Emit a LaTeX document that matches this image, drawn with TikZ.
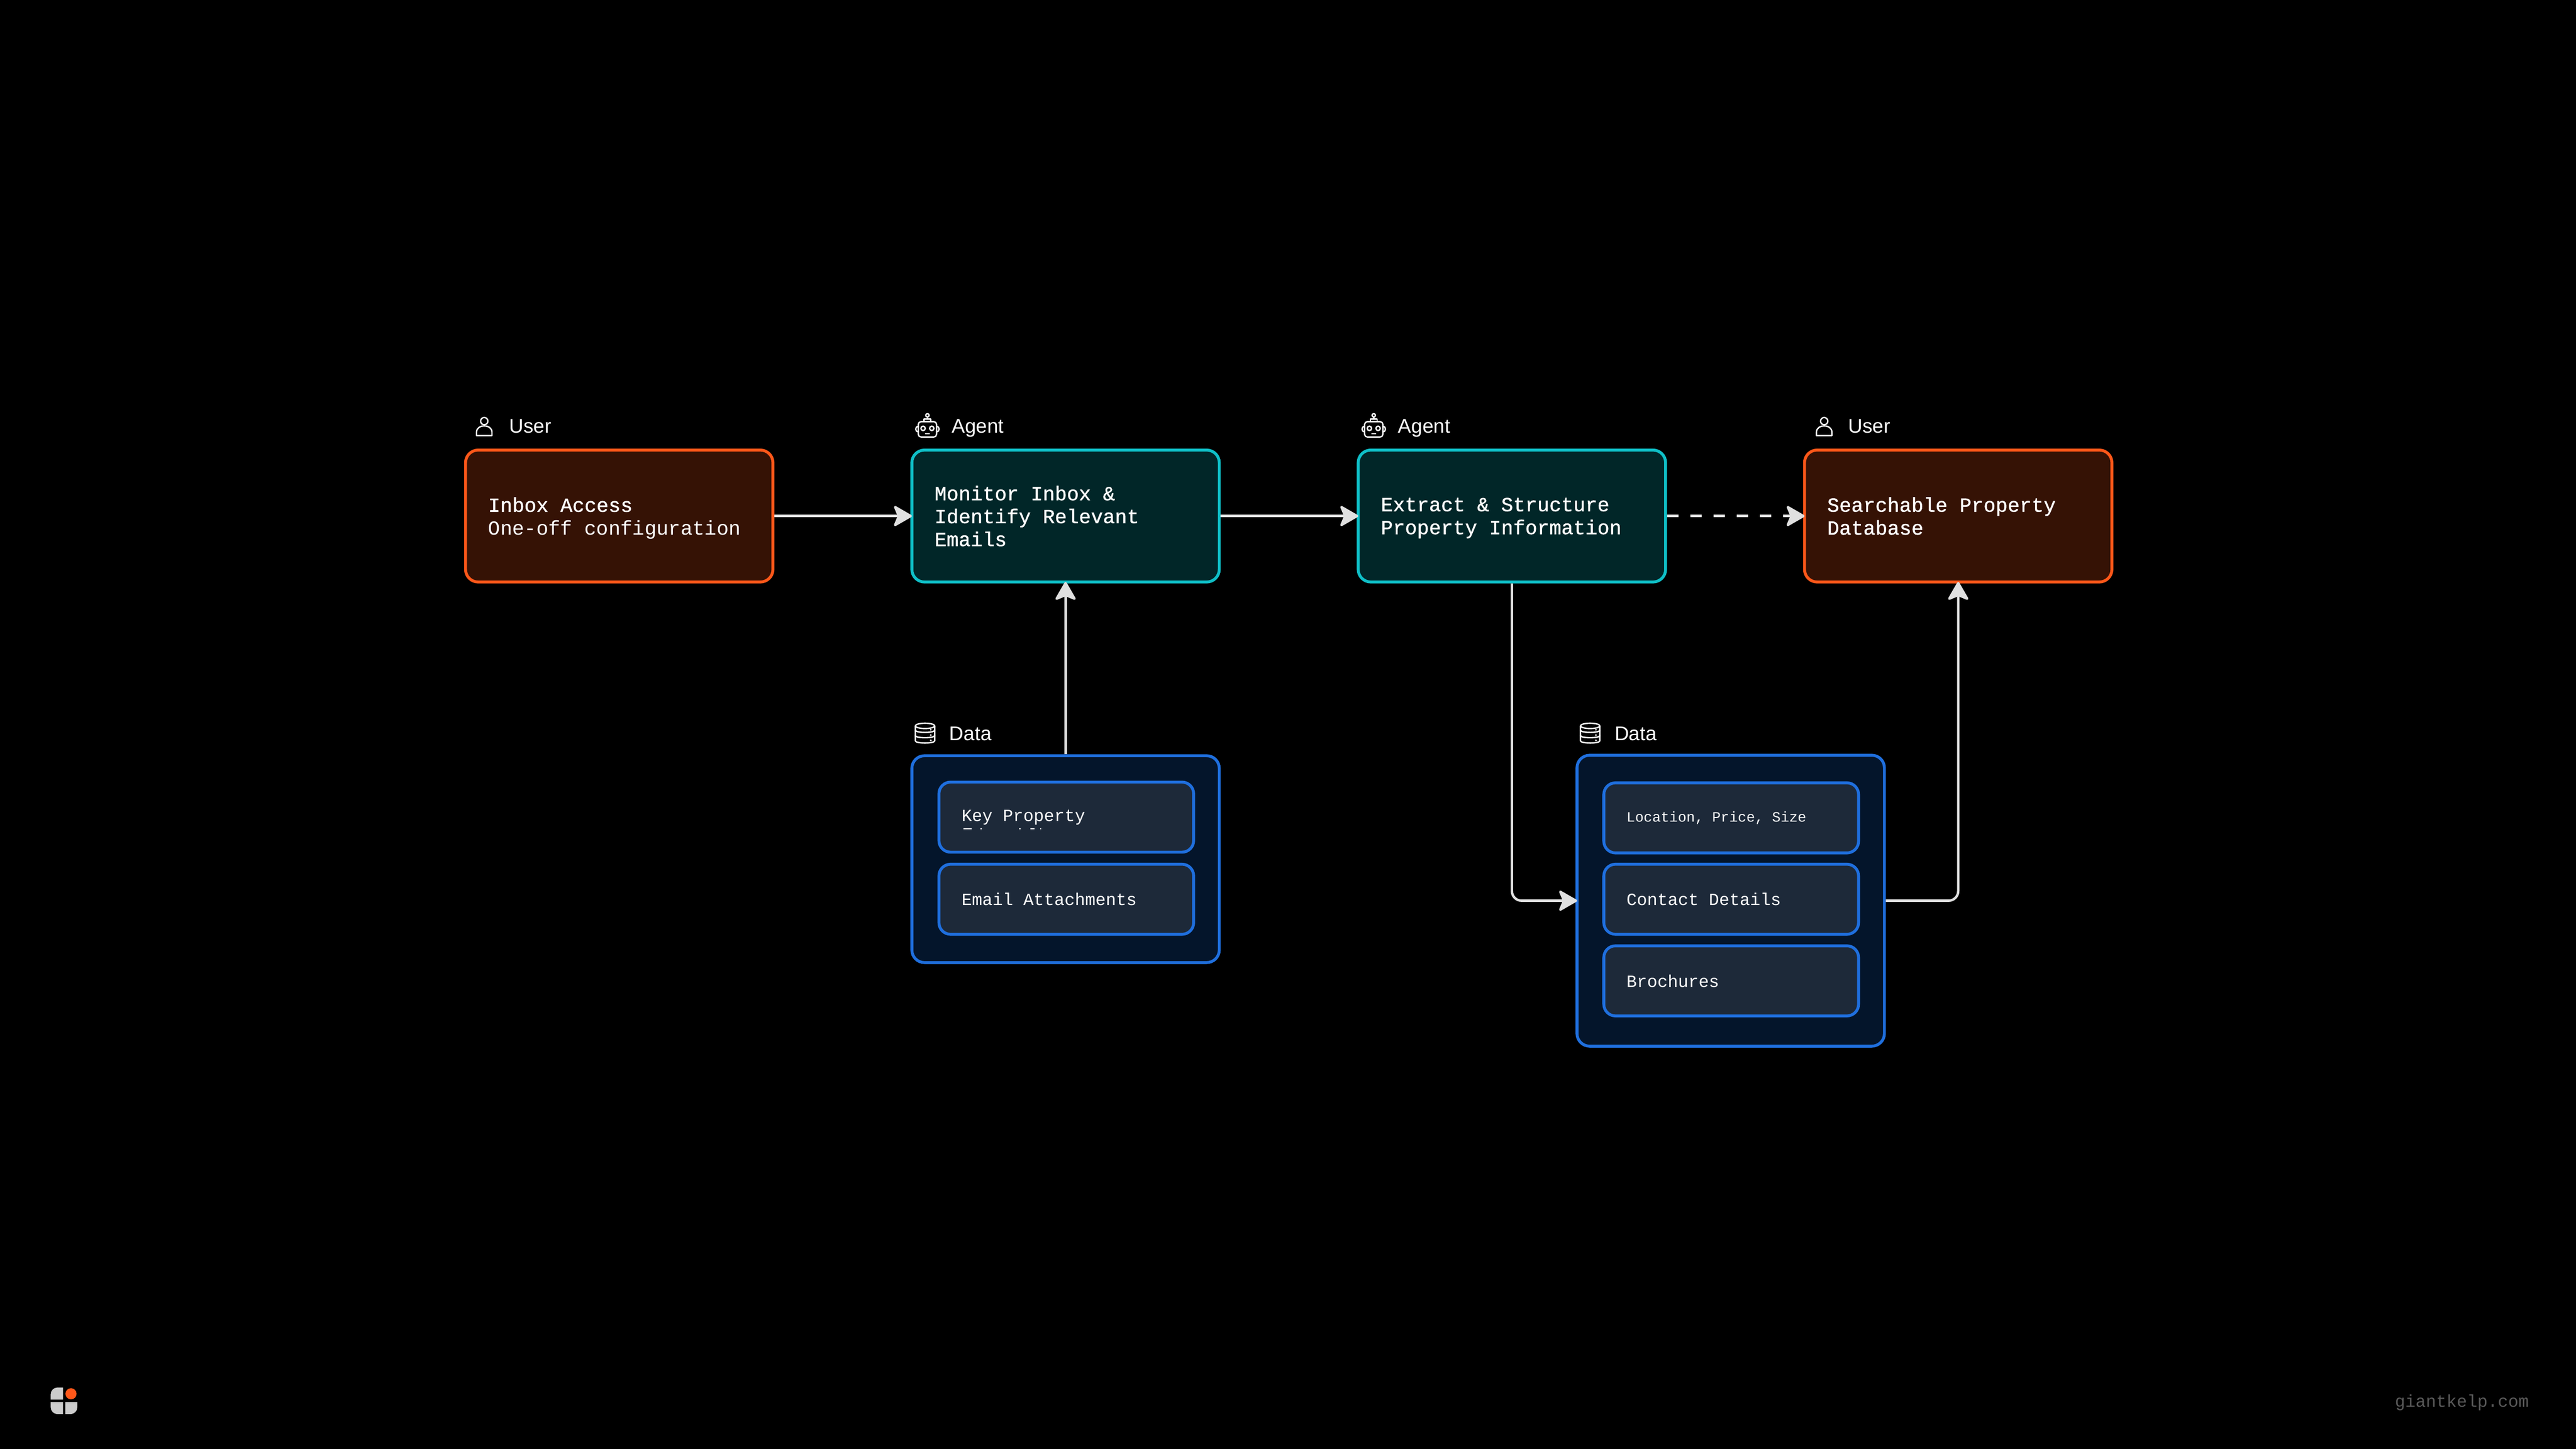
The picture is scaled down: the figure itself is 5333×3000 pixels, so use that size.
\documentclass[tikz,border=0pt]{standalone}
\usepackage{fontspec}
\usepackage{xcolor}
\usetikzlibrary{arrows.meta}
\setmainfont{Liberation Sans}
\setmonofont{Liberation Mono}
\newfontfamily\monomedium[FakeBold=1]{Liberation Mono}

\definecolor{kelporange}{HTML}{FF5719}
\definecolor{kelpbrown}{HTML}{351205}
\definecolor{kelpteal}{HTML}{0FBFC7}
\definecolor{kelpdeep}{HTML}{012628}
\definecolor{kelpblue}{HTML}{1F6FDE}
\definecolor{kelpnavy}{HTML}{04152B}
\definecolor{kelpslate}{HTML}{1D2939}
\definecolor{kelpline}{HTML}{E0E0E0}
\definecolor{kelpgrey}{HTML}{CCCCCC}

\begin{document}
\begin{tikzpicture}[
        x=0.01cm, y=-0.01cm,
        box/.style={draw, line width=0.06cm, rounded corners=0.26cm, minimum width=6.36cm, minimum height=2.73cm, inner xsep=0.47cm, inner ysep=0pt, text width=5.42cm, align=flush left, text=white, font=\fontsize{11.8pt}{13.5pt}\selectfont\ttfamily},
        userbox/.style={box, fill=kelpbrown, draw=kelporange},
        agentbox/.style={box, fill=kelpdeep, draw=kelpteal},
        databox/.style={draw=kelpblue, fill=kelpnavy, line width=0.06cm, rounded corners=0.26cm, minimum width=6.36cm},
        itembox/.style={draw=kelpblue, fill=kelpslate, line width=0.06cm, rounded corners=0.24cm, minimum width=5.27cm, minimum height=1.45cm, inner xsep=0.47cm, inner ysep=0pt, text width=4.33cm, align=flush left, text=white, font=\fontsize{10.1pt}{12pt}\selectfont\ttfamily},
        tag/.style={anchor=base west, inner sep=0pt, text=white, font=\fontsize{11.7pt}{14pt}\selectfont},
        arrow/.style={-{Stealth[length=0.42cm, width=0.48cm, inset=0.1cm, round]}, shorten >=-0.03cm, line width=0.05cm, draw=kelpline},
        icon/.style={draw=white, line width=0.028cm, line join=round, line cap=round},
        usericon/.pic={
            \draw[icon] (0,-11) circle[radius=0.075cm];
            \draw[icon] (-16,19) -- (-16,12) .. controls (-16,3) and (-8,-1) .. (0,-1) .. controls (8,-1) and (16,3) .. (16,12) -- (16,19) -- cycle;
        },
        roboticon/.pic={
            \draw[icon] (0,-21) circle[radius=0.035cm];
            \draw[icon] (0,-17) -- (0,-13);
            \draw[icon] (-7,-8) -- (-7,-13) -- (7,-13) -- (7,-8);
            \draw[icon, rounded corners=0.06cm] (-19,-8) rectangle (19,24);
            \draw[icon] (-9,6) circle[radius=0.045cm];
            \draw[icon] (9,6) circle[radius=0.045cm];
            \draw[icon] (-4,17) -- (4,17);
            \draw[icon] (-19,2) .. controls (-26,2) and (-26,13) .. (-19,13);
            \draw[icon] (19,2) .. controls (26,2) and (26,13) .. (19,13);
        },
        dataicon/.pic={
            \draw[icon] (-20,-16) -- (-20,15) .. controls (-20,21) and (20,21) .. (20,15) -- (20,-16);
            \draw[icon] (0,-16) ellipse[x radius=0.2cm, y radius=0.055cm];
            \draw[icon] (-20,-7) .. controls (-20,-1) and (20,-1) .. (20,-7);
            \draw[icon] (-20,4) .. controls (-20,10) and (20,10) .. (20,4);
            \foreach \ypos in {-8,3,14} \fill[white] (12,\ypos) circle[radius=0.02cm];
        }
    ]
    % Background
    \fill[black] (0,0) rectangle (5333,3000);
    \useasboundingbox (0,0) rectangle (5333,3000);

    % Top row boxes
    \node[userbox] (inbox) at (1282,1068.5) {{\monomedium Inbox Access}\\\leavevmode\smash{One-off configuration}};
    \node[agentbox] (monitor) at (2206,1068.5) {\monomedium Monitor Inbox \&\\Identify Relevant\\Emails};
    \node[agentbox] (extract) at (3130,1068.5) {\monomedium Extract \& Structure\\\leavevmode\smash{Property Information}};
    \node[userbox] (searchable) at (4054,1068.5) {\monomedium Searchable Property\\Database};

    % Data containers
    \node[databox, minimum height=4.28cm] (dataleft) at (2206,1779) {};
    \node[databox, minimum height=6.02cm] (dataright) at (3583,1865) {};

    % Data items
    \node[itembox] (keyprop) at (2207.5,1692) {Key Property};
    \node[itembox] (attachments) at (2207.5,1862) {Email Attachments};
    \node[itembox, font=\fontsize{8.4pt}{10pt}\selectfont\ttfamily] (location) at (3584,1693.5) {Location, Price, Size};
    \node[itembox] (contact) at (3584,1862) {Contact Details};
    \node[itembox] (brochures) at (3584,2031) {Brochures};

    % Cut off tops of the hidden line under Key Property
    \fill[white] (1994,1715) rectangle (2012,1717.5);
    \foreach \xpos in {2030,2110,2153} \fill[white] (\xpos,1715) rectangle ++(3,2.5);
    \fill[white] (2133,1715) rectangle (2142,1717.5);

    % Headers
    \pic at (1002.5,883) {usericon};
    \node[tag] (usera) at (1054,897) {User};
    \pic at (1920,881) {roboticon};
    \node[tag] (agenta) at (1970,897) {Agent};
    \pic at (2844,881) {roboticon};
    \node[tag] (agentb) at (2894,897) {Agent};
    \pic at (3776.5,883) {usericon};
    \node[tag] (userb) at (3826,897) {User};
    \pic at (1915,1519) {dataicon};
    \node[tag] (dataa) at (1965,1533) {Data};
    \pic at (3292,1519) {dataicon};
    \node[tag] (datab) at (3342,1533) {Data};

    % Arrows
    \draw[arrow] (inbox) -- (monitor);
    \draw[arrow] (monitor) -- (extract);
    \draw[arrow, dash pattern=on 0.24cm off 0.24cm] (extract) -- (searchable);
    \draw[arrow] (dataleft) -- (monitor);
    \draw[arrow, rounded corners=0.2cm] (extract) |- (dataright);
    \draw[arrow, rounded corners=0.2cm] (dataright) -| (searchable);

    % Logo and footer
    \fill[kelpgrey] (105,2898) -- (105,2887) arc[start angle=180, end angle=90, radius=0.14cm] -- (130.5,2873) -- (130.5,2898) -- cycle;
    \fill[kelpgrey] (105,2903) -- (105,2914) arc[start angle=180, end angle=270, radius=0.14cm] -- (130.5,2928) -- (130.5,2903) -- cycle;
    \fill[kelpgrey] (160,2903) -- (160,2914) arc[start angle=0, end angle=-90, radius=0.14cm] -- (135,2928) -- (135,2903) -- cycle;
    \fill[kelporange] (147,2886) circle[radius=0.115cm];
    \node[anchor=base east, inner sep=0pt, text=black!65!white, font=\fontsize{10.1pt}{12pt}\selectfont\ttfamily] (site) at (5236,2913) {giantkelp.com};
\end{tikzpicture}
\end{document}
